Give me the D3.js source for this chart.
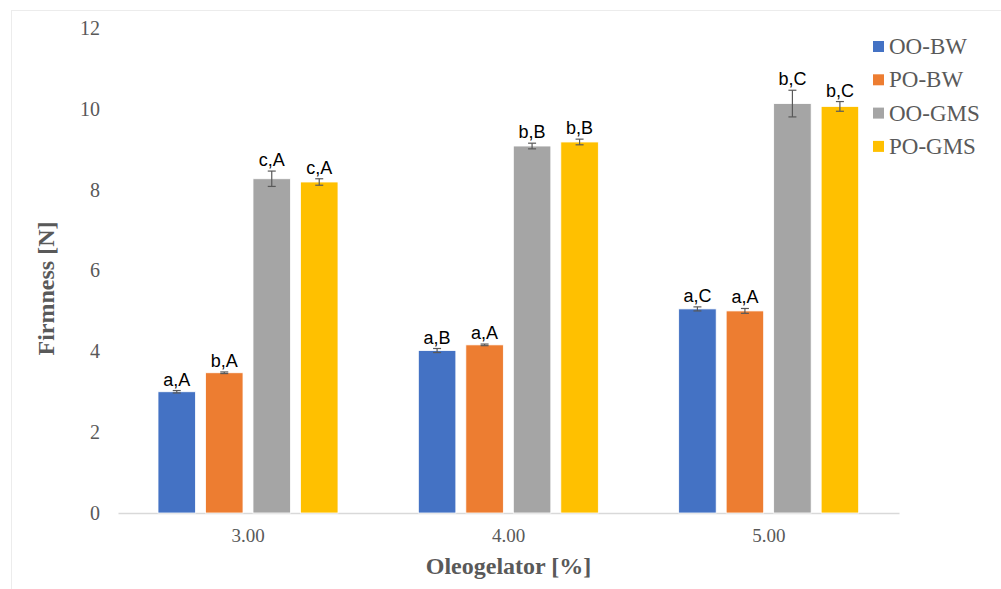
<!DOCTYPE html>
<html>
<head>
<meta charset="utf-8">
<script src="https://cdn.jsdelivr.net/npm/d3@7"></script>
<style>
  html, body { margin: 0; padding: 0; background: #fff; }
  svg { display: block; }
</style>
</head>
<body>
<script>
const categories = ["3.00", "4.00", "5.00"];
const seriesNames = ["OO-BW", "PO-BW", "OO-GMS", "PO-GMS"];
const seriesColors = ["#4472C4", "#ED7D31", "#A5A5A5", "#FFC000"];
// values[series][category]
const valOOBW  = [3.00, 4.02, 5.05];
const valPOBW  = [3.47, 4.16, 5.00];
const valOOGMS = [8.27, 9.08, 10.13];
const valPOGMS = [8.19, 9.18, 10.06];
const errOOBW  = [0.03, 0.05, 0.05];
const errPOBW  = [0.02, 0.02, 0.06];
const errOOGMS = [0.19, 0.07, 0.33];
const errPOGMS = [0.08, 0.07, 0.12];
const lblOOBW  = ["a,A", "a,B", "a,C"];
const lblPOBW  = ["b,A", "a,A", "a,A"];
const lblOOGMS = ["c,A", "b,B", "b,C"];
const lblPOGMS = ["c,A", "b,B", "b,C"];
const yTicks = [0, 2, 4, 6, 8, 10, 12];

const values = [valOOBW, valPOBW, valOOGMS, valPOGMS];
const errors = [errOOBW, errPOBW, errOOGMS, errPOGMS];
const labels = [lblOOBW, lblPOBW, lblOOGMS, lblPOGMS];

const W = 1001, H = 589;
const svg = d3.select("body").append("svg").attr("width", W).attr("height", H);

// outer frame
svg.append("rect").attr("x", 11.5).attr("y", 10.5).attr("width", W).attr("height", H)
  .attr("fill", "none").attr("stroke", "#ececec").attr("stroke-width", 1);

const plotL = 118, plotR = 899, plotT = 28, plotB = 513;

const x0 = d3.scaleBand().domain(categories).range([plotL, plotR]).paddingInner(0).paddingOuter(0);
const x1 = d3.scaleBand().domain(seriesNames).range([40, 220]).paddingInner(0.21).paddingOuter(0);
const y = d3.scaleLinear().domain([0, 12]).range([plotB, plotT]);

// y axis labels
const yAxis = d3.axisLeft(y).tickValues(yTicks).tickSize(0).tickPadding(0).tickFormat(d3.format("d"));
const gy = svg.append("g").attr("transform", `translate(100,0)`).call(yAxis);
gy.select(".domain").remove();
gy.selectAll("text").attr("font-family", "Liberation Serif, Times New Roman, serif")
  .attr("font-size", 20).attr("fill", "#595959");

// x axis
const xAxis = d3.axisBottom(x0).tickSize(0).tickPadding(0);
const gx = svg.append("g").attr("transform", `translate(0,${plotB})`).call(xAxis);
gx.select(".domain").attr("stroke", "#d9d9d9").attr("stroke-width", 1.5);
gx.selectAll("text").attr("font-family", "Liberation Serif, Times New Roman, serif")
  .attr("font-size", 19).attr("fill", "#595959").attr("dy", "1.5em");

// bars
const groups = svg.append("g").selectAll("g").data(categories).join("g")
  .attr("transform", d => `translate(${x0(d)},0)`);

seriesNames.forEach((s, si) => {
  groups.append("rect")
    .attr("x", x1(s))
    .attr("width", x1.bandwidth())
    .attr("y", (d, ci) => y(values[si][ci]))
    .attr("height", (d, ci) => y(0) - y(values[si][ci]))
    .attr("fill", seriesColors[si])
    .attr("stroke", "#fff").attr("stroke-width", 0.8);
});

// error bars
seriesNames.forEach((s, si) => {
  const cx = x1(s) + x1.bandwidth() / 2;
  const eb = groups.append("g").attr("stroke", "#595959").attr("stroke-width", 1.2);
  eb.append("line").attr("x1", cx).attr("x2", cx)
    .attr("y1", (d, ci) => y(values[si][ci] + errors[si][ci]))
    .attr("y2", (d, ci) => y(values[si][ci] - errors[si][ci]));
  eb.append("line").attr("x1", cx - 4).attr("x2", cx + 4)
    .attr("y1", (d, ci) => y(values[si][ci] + errors[si][ci]))
    .attr("y2", (d, ci) => y(values[si][ci] + errors[si][ci]));
  eb.append("line").attr("x1", cx - 4).attr("x2", cx + 4)
    .attr("y1", (d, ci) => y(values[si][ci] - errors[si][ci]))
    .attr("y2", (d, ci) => y(values[si][ci] - errors[si][ci]));
});

// letter labels
seriesNames.forEach((s, si) => {
  const cx = x1(s) + x1.bandwidth() / 2;
  groups.append("text")
    .attr("x", cx)
    .attr("y", (d, ci) => y(values[si][ci] + errors[si][ci]) - 5)
    .attr("text-anchor", "middle")
    .attr("font-family", "Liberation Sans, Arial, sans-serif")
    .attr("font-size", 18).attr("fill", "#000")
    .text((d, ci) => labels[si][ci]);
});

// axis titles
svg.append("text")
  .attr("transform", `translate(54,${(plotT + plotB) / 2 + 18}) rotate(-90)`)
  .attr("text-anchor", "middle")
  .attr("font-family", "Liberation Serif, Times New Roman, serif")
  .attr("font-weight", "bold").attr("font-size", 24).attr("fill", "#595959")
  .text("Firmness [N]");

svg.append("text")
  .attr("x", (plotL + plotR) / 2).attr("y", 574)
  .attr("text-anchor", "middle")
  .attr("font-family", "Liberation Serif, Times New Roman, serif")
  .attr("font-weight", "bold").attr("font-size", 24).attr("fill", "#595959")
  .text("Oleogelator [%]");

// legend
const lg = svg.append("g").attr("transform", "translate(873,41)");
seriesNames.forEach((s, si) => {
  const row = lg.append("g").attr("transform", `translate(0,${si * 33.3})`);
  row.append("rect").attr("width", 11).attr("height", 11).attr("fill", seriesColors[si]);
  row.append("text").attr("x", 16).attr("y", 13)
    .attr("font-family", "Liberation Serif, Times New Roman, serif")
    .attr("font-size", 23).attr("fill", "#595959")
    .text(s);
});
</script>
</body>
</html>
